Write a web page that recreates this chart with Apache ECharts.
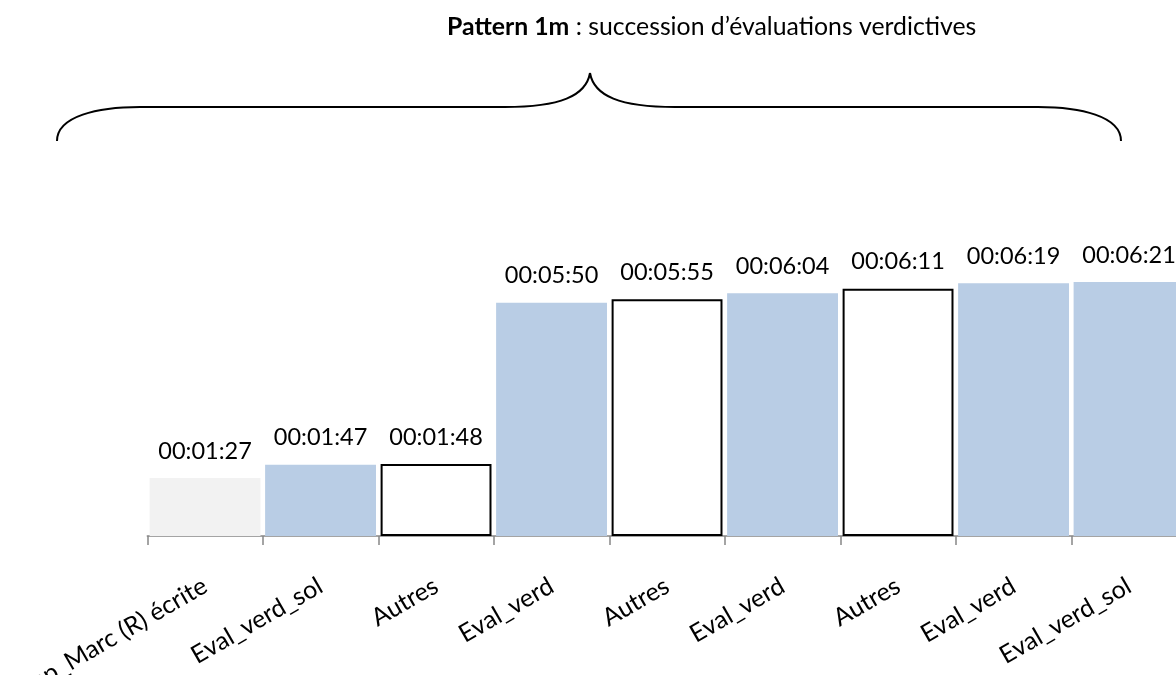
<!DOCTYPE html>
<html>
<head>
<meta charset="utf-8">
<script src="https://cdn.jsdelivr.net/npm/echarts@6/dist/echarts.min.js"></script>
<style>
html,body{margin:0;padding:0;background:#fff;}
#chart{width:1176px;height:675px;}
</style>
</head>
<body>
<div id="chart"></div>
<script>
// Data
var categories = ['Rep_Marc (R) écrite', 'Eval_verd_sol', 'Autres', 'Eval_verd', 'Autres', 'Eval_verd', 'Autres', 'Eval_verd', 'Eval_verd_sol'];
var durations = ['00:01:27', '00:01:47', '00:01:48', '00:05:50', '00:05:55', '00:06:04', '00:06:11', '00:06:19', '00:06:21'];
var titleBold = 'Pattern 1m';
var titleRest = ' : succession d’évaluations verdictives';

function toSeconds(s) {
  var p = s.split(':').map(Number);
  return p[0] * 3600 + p[1] * 60 + p[2];
}
function fmt(v) {
  var h = Math.floor(v / 3600), m = Math.floor((v % 3600) / 60), s = v % 60;
  function z(n) { return (n < 10 ? '0' : '') + n; }
  return z(h) + ':' + z(m) + ':' + z(s);
}

var FONT = 'Lato, "Open Sans", sans-serif';

var barData = categories.map(function (c, i) {
  var st;
  if (c.indexOf('Autres') === 0) {
    st = { color: '#ffffff', borderColor: '#000000', borderWidth: 2 };
  } else if (c.indexOf('Eval') === 0) {
    st = { color: '#b9cde5' };
  } else {
    st = { color: '#f2f2f2' };
  }
  return { value: toSeconds(durations[i]), itemStyle: st };
});

var braceStyle = { fill: null, stroke: '#000000', lineWidth: 2 };
function bez(x1, y1, cx1, cy1, cx2, cy2, x2, y2) {
  return { type: 'bezierCurve', shape: { x1: x1, y1: y1, cpx1: cx1, cpy1: cy1, cpx2: cx2, cpy2: cy2, x2: x2, y2: y2 }, style: braceStyle };
}
function seg(x1, y1, x2, y2) {
  return { type: 'line', shape: { x1: x1, y1: y1, x2: x2, y2: y2 }, style: braceStyle };
}

var chart = echarts.init(document.getElementById('chart'), null, { renderer: 'canvas' });
chart.setOption({
  animation: false,
  backgroundColor: '#ffffff',
  title: {
    text: '{b|' + titleBold + '}' + titleRest,
    left: 447,
    top: 15,
    padding: 0,
    textStyle: {
      fontFamily: FONT,
      fontSize: 24.8,
      fontWeight: 'normal',
      color: '#000000',
      rich: {
        b: { fontFamily: FONT, fontSize: 24.8, fontWeight: 'bold', color: '#000000' }
      }
    }
  },
  grid: { left: 147.3, width: 1039.5, top: 136, height: 400, containLabel: false, outerBoundsMode: 'none' },
  xAxis: {
    type: 'category',
    data: categories,
    boundaryGap: true,
    axisLine: { lineStyle: { color: '#868686', width: 1.5 } },
    axisTick: { show: true, length: 9, lineStyle: { color: '#868686', width: 1.5 } },
    axisLabel: {
      interval: 0,
      rotate: 30,
      margin: 48,
      fontFamily: FONT,
      fontSize: 25,
      color: '#000000'
    }
  },
  yAxis: {
    type: 'value',
    min: 0,
    max: 600,
    show: false,
    splitLine: { show: false }
  },
  series: [{
    type: 'bar',
    data: barData,
    barCategoryGap: '4%',
    label: {
      show: true,
      position: 'top',
      distance: 15,
      fontFamily: FONT,
      fontSize: 23.5,
      color: '#000000',
      formatter: function (p) { return fmt(p.value); }
    }
  }],
  graphic: [
    bez(57, 141, 57, 116, 98, 107, 140, 107),
    seg(140, 107, 505, 107),
    bez(505, 107, 560, 107, 586, 96, 590, 73),
    bez(590, 73, 594, 96, 620, 107, 675, 107),
    seg(675, 107, 1038, 107),
    bez(1038, 107, 1080, 107, 1121, 116, 1121, 141)
  ]
});
</script>
</body>
</html>
